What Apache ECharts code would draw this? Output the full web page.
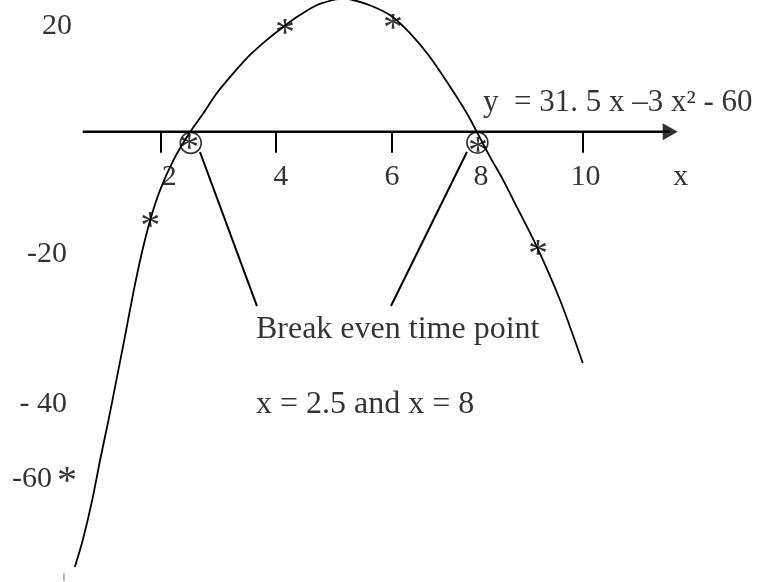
<!DOCTYPE html>
<html>
<head>
<meta charset="utf-8">
<script src="https://cdn.jsdelivr.net/npm/echarts@6/dist/echarts.min.js"></script>
<style>
html, body { margin: 0; padding: 0; background: #fff; }
#main { width: 764px; height: 582px; }
</style>
</head>
<body>
<div id="main"></div>
<script>
// curve as drawn (read off the sketch, not computed)
var curveX = [0.32, 0.47, 0.65, 0.80, 0.96, 1.11, 1.27, 1.43, 1.59, 1.75, 1.94, 2.19, 2.51, 2.76, 3.01, 3.33, 3.64, 3.96, 4.28, 4.59, 4.91, 5.23, 5.41, 5.60, 5.92, 6.30, 6.68, 7.06, 7.44, 7.76, 7.95, 8.20, 8.45, 8.64, 9.09, 9.53, 9.96];
var curveY = [-74.9, -70.3, -63.4, -56.5, -49.6, -42.7, -35.3, -27.7, -20.9, -15.2, -10.0, -4.9, 0, 3.2, 6.6, 10.1, 13.2, 15.8, 18.1, 20.1, 21.8, 22.7, 22.9, 22.7, 21.8, 20.1, 17.0, 12.9, 7.8, 3.2, 0, -4.3, -8.3, -11.7, -19.8, -29.0, -39.8];

// the * points
var starX = [0.17, 1.75, 2.49, 4.31, 6.36, 7.97, 9.11];
var starY = [-58.6, -14.7, -1.4, 18.4, 19.4, -1.75, -19.5];

// circled break-even points
var rootX = [2.52, 7.96];
var rootY = [-1.9, -1.85];

// x axis
var xAxisFrom = 0.47;
var xAxisTo = 11.62;
var xTickAt = [1.955, 4.137, 6.339, 9.964];
var xTickLabels = ['2', '4', '6', '8', '10', 'x'];
var xLabelAt = [2.11, 4.23, 6.34, 8.03, 10.01, 11.82];

// y labels (no y axis line in the sketch)
var yTickLabels = ['20', '-20', '- 40', '-60'];
var yLabelAt = [18.6, -20.7, -46.5, -59.3];
var yLabelX = [0.266, 0.171, 0.171, -0.114];

// symmetry line and pointers to the text
var peakLineX = 5.6;
var pointerFrom = [[2.695, -3.47], [7.762, -3.47]];
var pointerTo = [[3.777, -29.99], [6.320, -29.99]];

var noteLines = ['Break even time point', 'x = 2.5 and x = 8'];
var noteAt = [[3.758, -33.7], [3.758, -46.6]];
var equation = 'y  = 31. 5 x \u20133 x\u00b2 - 60';
var equationAt = [8.066, 5.48];

var serif = '"Liberation Serif", "Times New Roman", serif';

var myChart = echarts.init(document.getElementById('main'));

function seg(a, b) {
    return [{ coord: a }, { coord: b }];
}

var segments = [];
xTickAt.forEach(function (x) {
    segments.push(seg([x, 0], [x, -3.6]));
});
segments.push(seg([peakLineX, 0], [peakLineX, 23]));
pointerFrom.forEach(function (p, i) {
    segments.push(seg(p, pointerTo[i]));
});

function textPoint(x, y, text, size, align) {
    return {
        value: [x, y],
        label: {
            show: true,
            formatter: text,
            fontSize: size,
            align: align,
            color: '#000',
            fontFamily: serif,
            offset: [0, 2.5]
        }
    };
}

var texts = [];
xLabelAt.forEach(function (x, i) {
    texts.push(textPoint(x, -7.43, xTickLabels[i], 30, 'center'));
});
yLabelAt.forEach(function (y, i) {
    texts.push(textPoint(yLabelX[i], y, yTickLabels[i], 30, 'right'));
});
noteLines.forEach(function (t, i) {
    texts.push(textPoint(noteAt[i][0], noteAt[i][1], t, 32, 'left'));
});
texts.push(textPoint(equationAt[0], equationAt[1], equation, 31, 'left'));

var option = {
    animation: false,
    backgroundColor: '#fff',
    grid: { left: 0, right: 0, top: 0, bottom: 0 },
    xAxis: { type: 'value', min: -1.1, max: 13.4, show: false },
    yAxis: { type: 'value', min: -77.5, max: 22.7, show: false },
    series: [
        {
            type: 'line',
            smooth: 0.3,
            symbol: 'none',
            silent: true,
            lineStyle: { color: '#000', width: 1.8 },
            data: curveX.map(function (x, i) { return [x, curveY[i]]; })
        },
        {
            // x axis with arrow
            type: 'line',
            symbol: 'none',
            silent: true,
            lineStyle: { color: '#000', width: 2.5 },
            data: [[xAxisFrom, 0], [xAxisTo, 0]],
            markLine: {
                silent: true,
                symbol: 'none',
                label: { show: false },
                lineStyle: { color: '#000', width: 2, type: 'solid' },
                data: segments
            }
        },
        {
            // stray pen mark at the bottom left
            type: 'line',
            symbol: 'none',
            silent: true,
            lineStyle: { color: '#666', width: 1 },
            data: [[0.114, -76.0], [0.114, -77.3]]
        },
        {
            type: 'scatter',
            silent: true,
            symbol: 'triangle',
            symbolRotate: -90,
            symbolSize: [17, 15],
            itemStyle: { color: '#000' },
            data: [[xAxisTo, 0]]
        },
        {
            type: 'scatter',
            silent: true,
            symbol: 'circle',
            symbolSize: 21,
            itemStyle: { color: 'rgba(0,0,0,0)', borderColor: '#000', borderWidth: 1.6 },
            data: rootX.map(function (x, i) { return [x, rootY[i]]; })
        },
        {
            type: 'scatter',
            silent: true,
            symbolSize: 0,
            label: {
                show: true,
                position: [0, 0],
                offset: [0, 10],
                formatter: '*',
                align: 'center',
                verticalAlign: 'middle',
                color: '#000',
                fontSize: 40,
                fontFamily: serif
            },
            data: starX.map(function (x, i) { return [x, starY[i]]; })
        },
        {
            type: 'scatter',
            silent: true,
            symbolSize: 0,
            label: {
                show: true,
                position: [0, 0],
                verticalAlign: 'middle',
                color: '#000',
                fontFamily: serif
            },
            data: texts
        }
    ]
};

myChart.setOption(option);
</script>
</body>
</html>
